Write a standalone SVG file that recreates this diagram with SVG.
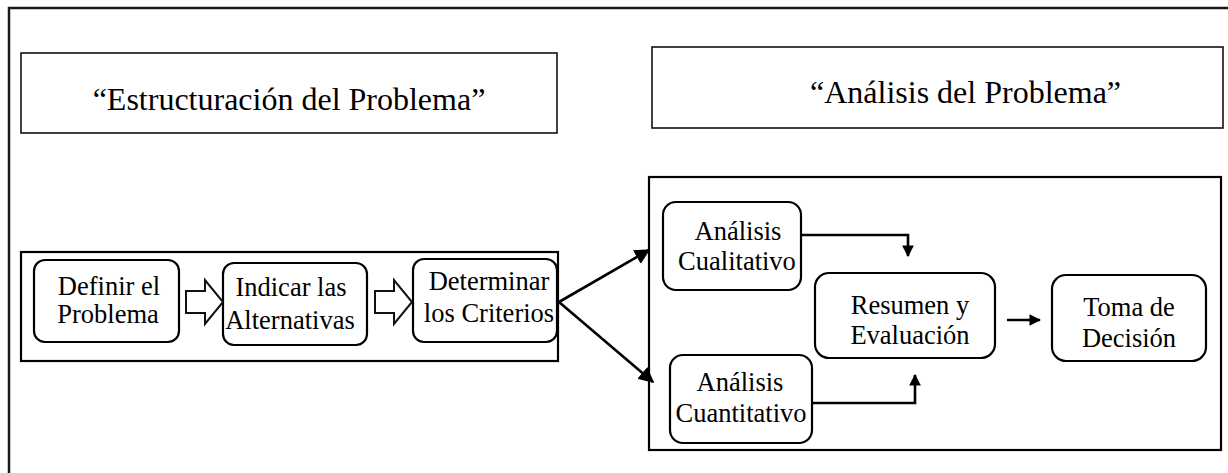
<svg xmlns="http://www.w3.org/2000/svg" width="1228" height="473" viewBox="0 0 1228 473" font-family="'Liberation Serif', 'Times New Roman', serif">
  <style>
    .frame { fill: none; stroke: #1a1a1a; stroke-width: 2.5; }
    .title { fill: #fff; stroke: #111; stroke-width: 1.6; }
    .panel { fill: none; stroke: #000; stroke-width: 2.2; }
    .node { fill: #fff; stroke: #000; stroke-width: 2.2; }
    .block { fill: #fff; stroke: #111; stroke-width: 2; stroke-linejoin: miter; }
    .wire { fill: none; stroke: #000; stroke-width: 2.6; }
    .big { font-family: 'Liberation Serif', serif; font-size: 32px; fill: #000; }
    .lbl { font-family: 'Liberation Serif', serif; font-size: 26.5px; text-anchor: middle; fill: #000; }
  </style>
  <defs>
    <marker id="head" viewBox="0 0 10 10" refX="9" refY="5" markerWidth="6" markerHeight="6" markerUnits="strokeWidth" orient="auto">
      <path d="M0,0 L10,5 L0,10 Z" fill="#000"/>
    </marker>
    <marker id="headSmall" viewBox="0 0 10 10" refX="9" refY="5" markerWidth="4.5" markerHeight="4.5" markerUnits="strokeWidth" orient="auto">
      <path d="M0,0 L10,5 L0,10 Z" fill="#000"/>
    </marker>
  </defs>

  <rect width="1228" height="473" fill="#fff"/>

  <!-- page frame (only top and left edges fall inside the view) -->
  <path class="frame" d="M9,473 V8 H1228"/>

  <!-- section headings -->
  <g id="heading-estructuracion">
    <rect class="title" x="21" y="53" width="536" height="80"/>
    <text class="big" x="289" y="110" text-anchor="middle">“Estructuración del Problema”</text>
  </g>
  <g id="heading-analisis">
    <rect class="title" x="652" y="47" width="571" height="81"/>
    <text class="big" x="810" y="103">“Análisis del Problema”</text>
  </g>

  <!-- panels grouping the steps -->
  <g id="panel-estructuracion">
    <rect class="panel" x="21" y="252" width="537" height="109"/>
  </g>
  <g id="panel-analisis">
    <rect class="panel" x="649" y="177" width="572" height="273"/>
  </g>

  <!-- structuring steps -->
  <g id="definir">
    <rect class="node" x="34" y="260" width="145" height="82" rx="11"/>
    <text class="lbl" x="109" y="295">Definir el</text>
    <text class="lbl" x="108" y="323">Problema</text>
  </g>
  <g id="indicar">
    <rect class="node" x="223" y="263" width="144" height="82" rx="11"/>
    <text class="lbl" x="291" y="296">Indicar las</text>
    <text class="lbl" x="290" y="329">Alternativas</text>
  </g>
  <g id="determinar">
    <rect class="node" x="413" y="259" width="144" height="83" rx="11"/>
    <text class="lbl" x="489" y="290">Determinar</text>
    <text class="lbl" x="489" y="322">los Criterios</text>
  </g>

  <!-- analysis steps -->
  <g id="cualitativo">
    <rect class="node" x="663" y="202" width="138" height="88" rx="13"/>
    <text class="lbl" x="738" y="240">Análisis</text>
    <text class="lbl" x="737" y="270">Cualitativo</text>
  </g>
  <g id="cuantitativo">
    <rect class="node" x="670" y="355" width="142" height="88" rx="13"/>
    <text class="lbl" x="740" y="391">Análisis</text>
    <text class="lbl" x="741" y="422">Cuantitativo</text>
  </g>
  <g id="resumen">
    <rect class="node" x="815" y="273" width="180" height="85" rx="14"/>
    <text class="lbl" x="910" y="314">Resumen y</text>
    <text class="lbl" x="910" y="344">Evaluación</text>
  </g>
  <g id="toma">
    <rect class="node" x="1052" y="275" width="154" height="86" rx="14"/>
    <text class="lbl" x="1129" y="316">Toma de</text>
    <text class="lbl" x="1129" y="347">Decisión</text>
  </g>

  <!-- connectors -->
  <g id="connectors">
    <!-- hollow block arrows between structuring steps -->
    <path class="block" d="M186,291 H205 V280 L223,302 L205,324 V313 H186 Z"/>
    <path class="block" d="M375,291 H394 V280 L412,302 L394,324 V313 H375 Z"/>
    <!-- split towards both analyses -->
    <line class="wire" x1="559" y1="302" x2="649" y2="250" marker-end="url(#head)"/>
    <line class="wire" x1="559" y1="302" x2="653" y2="382" marker-end="url(#head)"/>
    <!-- analyses into the summary -->
    <polyline class="wire" points="801,235 908,235 908,256" marker-end="url(#headSmall)"/>
    <polyline class="wire" points="812,403 915,403 915,375" marker-end="url(#headSmall)"/>
    <!-- summary to decision -->
    <line class="wire" x1="1007" y1="320" x2="1040" y2="320" marker-end="url(#headSmall)"/>
  </g>
</svg>
